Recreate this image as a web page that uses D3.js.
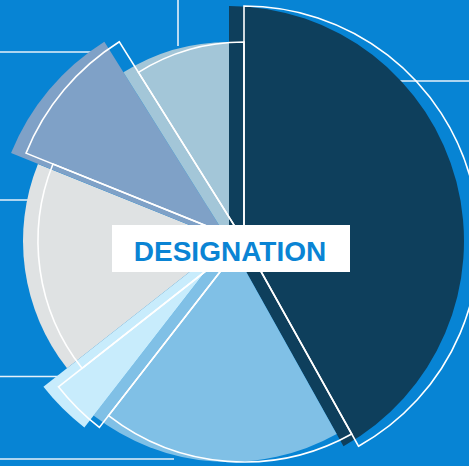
<!DOCTYPE html>
<html>
<head>
<meta charset="utf-8">
<script src="https://cdn.jsdelivr.net/npm/d3@7"></script>
<style>
  html, body { margin: 0; padding: 0; background: #0784d4; overflow: hidden; }
  svg { display: block; }
</style>
</head>
<body>
<div id="chart"></div>
<script>
// ---- data ----
const categories = ["Segment 1", "Segment 2", "Segment 3", "Segment 4", "Segment 5", "Segment 6"];
const values = [41.9, 18.6, 3.9, 16.7, 10.0, 8.9];
const title = "DESIGNATION";

// ---- style ----
const colors = ["#0e3f5c", "#80c0e6", "#c8ecfc", "#dfe2e3", "#7fa1c7", "#a3c6d8"];
const sliceRadius = [235, 221, 236, 206, 235, 199];
const W = 469, H = 466;
const cx = 229, cy = 241;
const outlineShift = 15;

const svg = d3.select("#chart").append("svg")
  .attr("width", W).attr("height", H);

svg.append("rect").attr("width", W).attr("height", H).attr("fill", "#0784d4");

// decorative leader lines (beneath the pie)
const leaders = [
  [[178, 0], [178, 46]],
  [[0, 52], [95, 52]],
  [[469, 81], [320, 81]],
  [[0, 200], [120, 200]],
  [[0, 376.5], [120, 376.5]],
  [[0, 459], [174, 459]]
];
svg.append("g").selectAll("line").data(leaders).join("line")
  .attr("x1", d => d[0][0]).attr("y1", d => d[0][1])
  .attr("x2", d => d[1][0]).attr("y2", d => d[1][1])
  .attr("stroke", "#e6f1fa").attr("stroke-width", 1.6);

const pie = d3.pie().sort(null).value(d => d);
const arcs = pie(values);
const arc = d3.arc().innerRadius(0).outerRadius(d => sliceRadius[d.index]);

svg.append("g").attr("transform", `translate(${cx},${cy})`)
  .selectAll("path").data(arcs).join("path")
  .attr("d", arc)
  .attr("fill", (d, i) => colors[i]);

svg.append("g").attr("transform", `translate(${cx + outlineShift},${cy})`)
  .selectAll("path").data(arcs).join("path")
  .attr("d", arc)
  .attr("fill", "none")
  .attr("stroke", "#ffffff")
  .attr("stroke-width", 1.6)
  .attr("stroke-linejoin", "miter");

// title box
const box = svg.append("g");
box.append("rect")
  .attr("x", 112).attr("y", 225).attr("width", 238).attr("height", 47)
  .attr("fill", "#ffffff");
box.append("text")
  .attr("x", 230).attr("y", 261)
  .attr("text-anchor", "middle")
  .attr("font-family", "Liberation Sans, Arial, Helvetica, sans-serif")
  .attr("font-weight", "bold")
  .attr("font-size", 28)
  .attr("fill", "#0a84d4")
  .text(title);
</script>
</body>
</html>
